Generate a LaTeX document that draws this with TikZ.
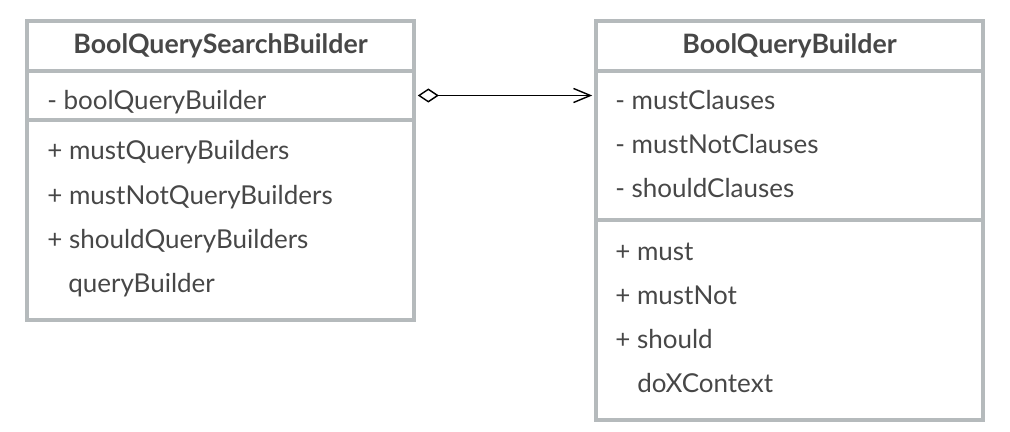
\documentclass[tikz,border=0pt]{standalone}
\usepackage{fontspec}
\setmainfont{Lato}
\usetikzlibrary{arrows.meta,fit}

\definecolor{boxgray}{HTML}{B5BABC}
\definecolor{textgray}{HTML}{474747}

\tikzset{
  comp/.style={draw=boxgray, line width=2.4pt, inner sep=0pt},
  title/.style={font=\bfseries\fontsize{19}{22}\selectfont, text=textgray, anchor=base, inner sep=0pt},
  member/.style={font=\fontsize{18.5}{22}\selectfont, text=textgray, anchor=base west, inner sep=0pt},
  assoc/.style={line width=1pt, {Diamond[open,length=15pt,width=10pt]}-{Straight Barb[length=12pt,width=10pt]}}
}

\begin{document}
\begin{tikzpicture}[x=0.025cm, y=-0.025cm]
  \useasboundingbox (0,0) rectangle (1010,432);

  \coordinate (LA) at (27, 21);
  \coordinate (LB) at (414, 71);
  \coordinate (LC) at (414, 120);
  \coordinate (LD) at (414, 320);
  \coordinate (LE) at (27, 71);
  \coordinate (LF) at (27, 120);

  \node[comp, fit=(LA) (LB)] (lhead) {};
  \node[comp, fit=(LE) (LC)] (lattr) {};
  \node[comp, fit=(LF) (LD)] (lmeth) {};

  \node[title] (lname) at (220.5, 54) {BoolQuerySearchBuilder};
  \node[member] (lbool) at (47, 110) {- boolQueryBuilder};
  \node[member] (lmust) at (47, 160) {+ mustQueryBuilders};
  \node[member] (lmustnot) at (47, 204) {+ mustNotQueryBuilders};
  \node[member] (lshould) at (47, 248) {+ shouldQueryBuilders};
  \node[member] (lquery) at (68, 292) {queryBuilder};


  \coordinate (RA) at (596, 21);
  \coordinate (RB) at (983, 71);
  \coordinate (RC) at (983, 220);
  \coordinate (RD) at (983, 420);
  \coordinate (RE) at (596, 71);
  \coordinate (RF) at (596, 220);

  \node[comp, fit=(RA) (RB)] (rhead) {};
  \node[comp, fit=(RE) (RC)] (rattr) {};
  \node[comp, fit=(RF) (RD)] (rmeth) {};

  \node[title] (rname) at (789.5, 54) {BoolQueryBuilder};
  \node[member] (rmustc) at (615, 110) {- mustClauses};
  \node[member] (rmustnotc) at (615, 154) {- mustNotClauses};
  \node[member] (rshouldc) at (615, 198) {- shouldClauses};
  \node[member] (rmust) at (615, 260) {+ must};
  \node[member] (rmustnot) at (615, 304) {+ mustNot};
  \node[member] (rshould) at (615, 348) {+ should};
  \node[member] (rdox) at (637, 392) {doXContext};

  \draw[assoc, shorten <=1.5pt, shorten >=1.5pt] (lattr.east) -- (lattr.east -| rattr.west);
\end{tikzpicture}
\end{document}
